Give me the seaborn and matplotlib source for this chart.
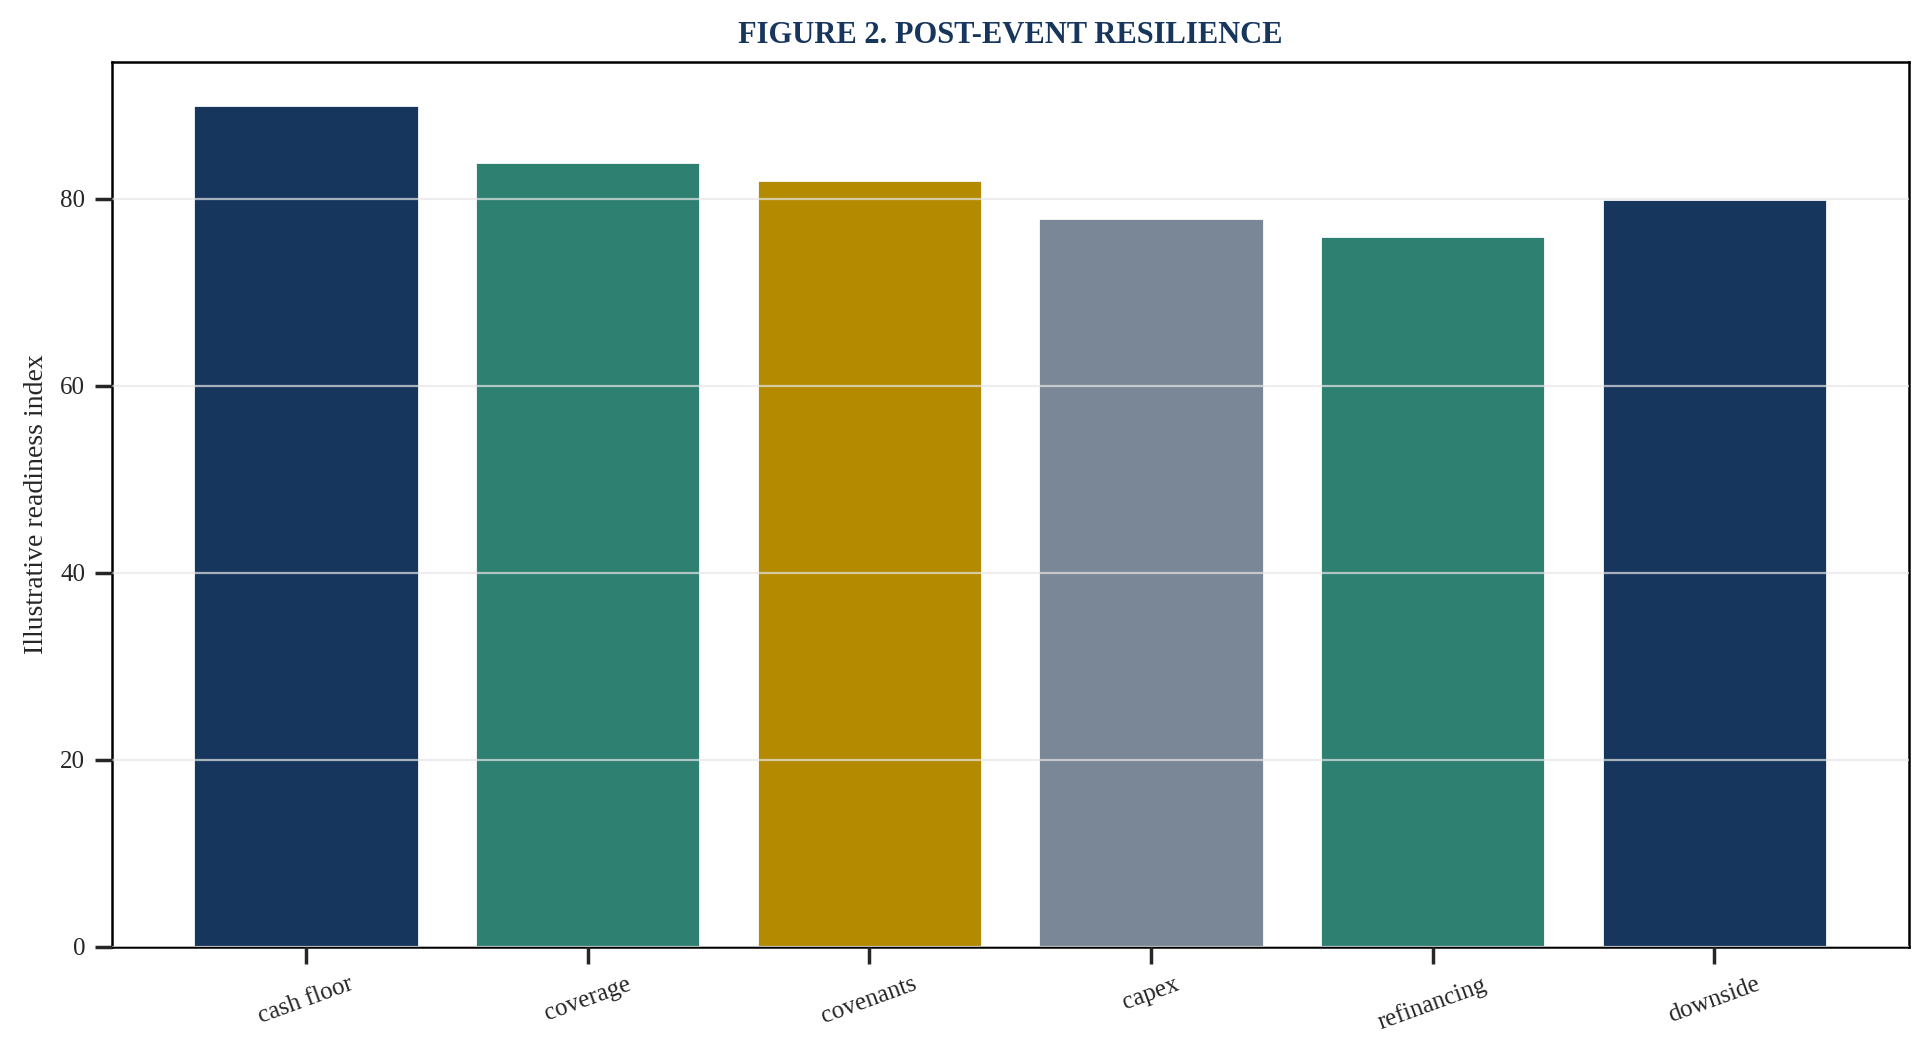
import matplotlib
matplotlib.use("Agg")
import matplotlib.pyplot as plt
import seaborn as sns
import pandas as pd

categories = ["cash floor", "coverage", "covenants", "capex", "refinancing", "downside"]
values = [90, 84, 82, 78, 76, 80]
colors = ["#17365d", "#2e8070", "#b38a00", "#7a8796", "#2e8070", "#17365d"]

sns.set_theme(style="ticks")
plt.rcParams['font.family'] = ['Liberation Serif', 'DejaVu Serif']

df = pd.DataFrame({"cat": categories, "val": values})
fig = plt.figure(figsize=(9.62, 5.295), dpi=200)
ax = fig.add_axes([0.058, 0.106, 0.934, 0.835])
sns.barplot(data=df, x="cat", y="val", hue="cat", palette=colors, legend=False,
            width=0.8, saturation=1, ax=ax, zorder=2)
ax.set_xlim(-0.69, 5.69)
ax.set_ylim(0, 94.6)
ax.set_yticks([0, 20, 40, 60, 80])
ax.yaxis.grid(True, color="#e6e6e6", linewidth=0.8, zorder=3)
ax.set_axisbelow(False)
for l in ax.get_ygridlines():
    l.set_zorder(3); l.set_alpha(0.7)
ax.set_xlabel("")
ax.set_ylabel("Illustrative readiness index", fontsize=10)
ax.tick_params(axis="x", labelrotation=20, labelsize=9)
ax.tick_params(axis="y", labelsize=9)
for s in ax.spines.values():
    s.set_linewidth(0.9); s.set_color("black")
ax.set_title("FIGURE 2. POST-EVENT RESILIENCE", fontsize=11, fontweight="bold",
             color="#17365d", pad=7)
fig.savefig("out.png", dpi=200)
